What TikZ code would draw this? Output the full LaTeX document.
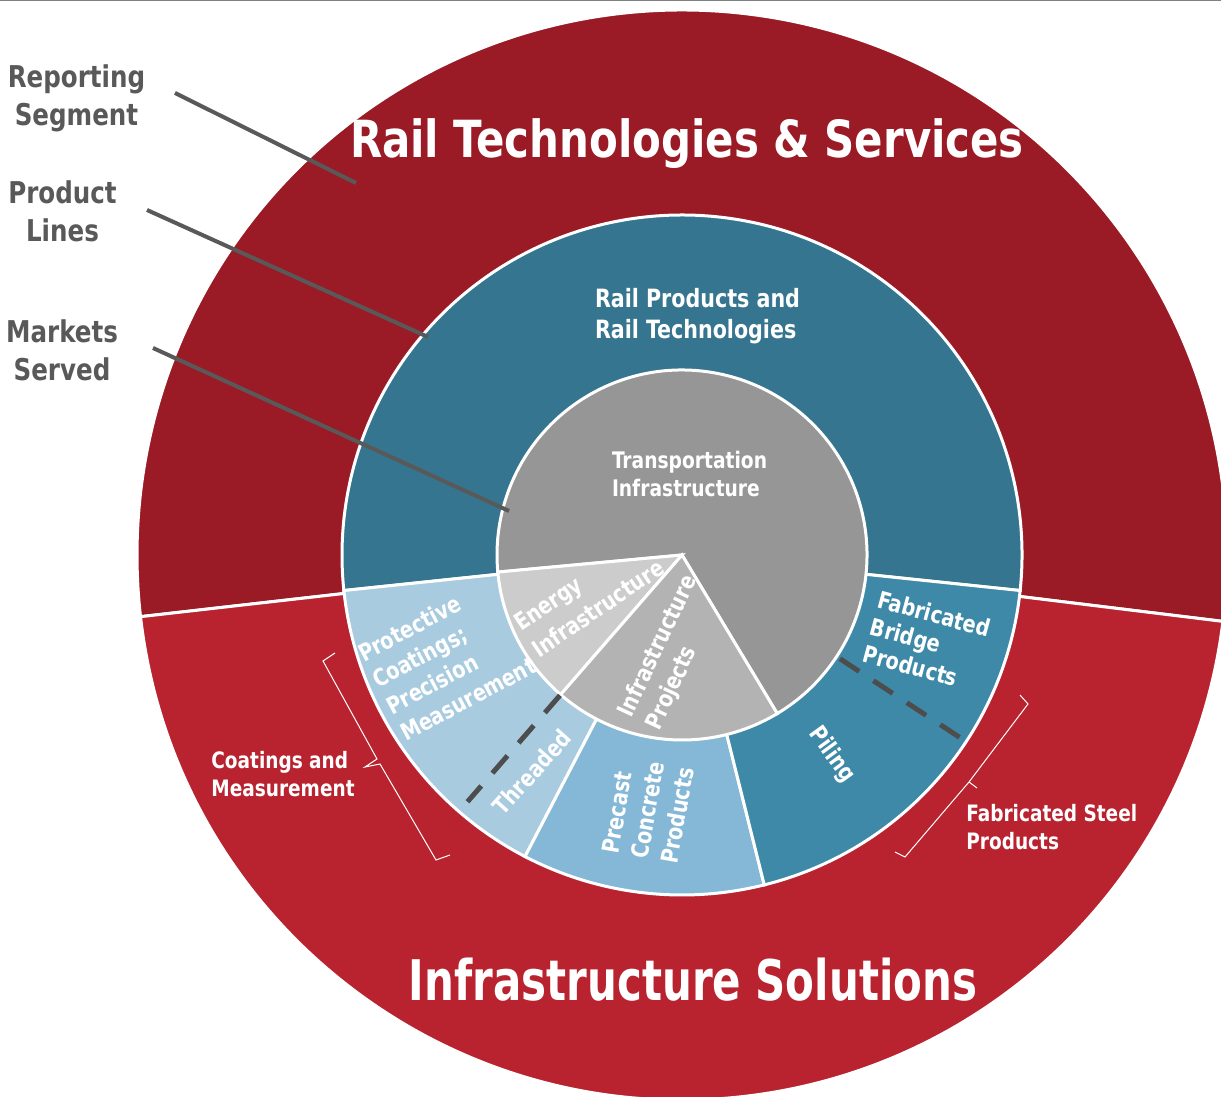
\documentclass[tikz,border=0pt]{standalone}
\usepackage{fontspec}
\newfontfamily\tahfont{DejaVu Sans Condensed Bold}[FakeStretch=0.91]
\usetikzlibrary{calc}
\definecolor{railred}{HTML}{9A1B25}
\definecolor{infrared}{HTML}{B8232F}
\definecolor{railteal}{HTML}{35758F}
\definecolor{steelblue}{HTML}{3F89A8}
\definecolor{precastblue}{HTML}{84B8D6}
\definecolor{coatblue}{HTML}{A9CBE0}
\definecolor{transgray}{HTML}{969696}
\definecolor{energygray}{HTML}{CCCCCC}
\definecolor{projgray}{HTML}{B3B3B3}
\definecolor{labelgray}{HTML}{595959}
\definecolor{dashgray}{HTML}{4D4D4D}
\def\ringwedge[#1](#2:#3:#4){\filldraw[#1] (ctr) -- ++(#2:#4) arc (#2:#3:#4) -- cycle;}
\tikzset{
  wedge/.style={draw=white, line width=1.5pt, fill=#1},
  ringtext/.style={text=white, inner sep=0pt, align=left, font=\tahfont\fontsize{11.8}{15}\selectfont},
  sidetext/.style={text=labelgray, inner sep=0pt, align=center, font=\tahfont\fontsize{15}{19}\selectfont},
  segtext/.style={text=white, inner sep=0pt, align=left, font=\tahfont\fontsize{11.3}{14.3}\selectfont},
  titletext/.style={text=white, inner sep=0pt, font=\tahfont\fontsize{25.6}{30}\selectfont},
  leader/.style={draw=labelgray, line width=2pt},
  splitline/.style={draw=dashgray, line width=2.5pt, dash pattern=on 11.5pt off 8.5pt},
  brace/.style={draw=white, line width=0.5pt}
}

\begin{document}
\begin{tikzpicture}[x=0.5pt, y=0.5pt]
			%%%%% START %%%%%
			\useasboundingbox (0, 0) rectangle (1221, 1097);
			\clip (0, 0) rectangle (1221, 1097);
			\coordinate (ctr) at (682, 542);
			
			% segments
			\ringwedge[wedge=railred](-7:186.5:545)
			\ringwedge[wedge=infrared](186.5:353:545)
			
			% product lines
			\ringwedge[wedge=railteal](-6:186:340)
			\ringwedge[wedge=coatblue](186:242.5:340)
			\ringwedge[wedge=precastblue](242.5:284:340)
			\ringwedge[wedge=steelblue](284:354:340)
			
			% markets
			\ringwedge[wedge=transgray](-59:185.3:185)
			\ringwedge[wedge=energygray](185.3:229:185)
			\ringwedge[wedge=projgray](229:301:185)
			
			\coordinate (thrA) at ($(ctr)+(229:186)$);
			\coordinate (thrB) at ($(ctr)+(229:327)$);
			\coordinate (pilA) at ($(ctr)+(326.7:189)$);
			\coordinate (pilB) at ($(ctr)+(326.7:335)$);
			\draw[splitline] (thrA) -- (thrB);
			\draw[splitline] (pilA) -- (pilB);
			
			% brackets
			\coordinate (cmTop) at (335, 444);
			\coordinate (cmC1) at (323, 436);
			\coordinate (cmM1) at (377, 338);
			\coordinate (cmTip) at (365, 330);
			\coordinate (cmM2) at (380, 333);
			\coordinate (cmC2) at (436, 237);
			\coordinate (cmBot) at (450, 242);
			\draw[brace] (cmTop) -- (cmC1) -- (cmM1) -- (cmTip) -- (cmM2) -- (cmC2) -- (cmBot);
			
			\coordinate (fsTop) at (1020, 402);
			\coordinate (fsC1) at (1028, 393);
			\coordinate (fsM) at (969, 315);
			\coordinate (fsTip) at (977, 309);
			\coordinate (fsC2) at (905, 240);
			\coordinate (fsBot) at (895, 245);
			\draw[brace] (fsTop) -- (fsC1) -- (fsM) -- (fsC2) -- (fsBot);
			\draw[brace] (fsM) -- (fsTip);
			
			% texts
			\node[titletext, anchor=base] (railseg) at (687, 939) {Rail Technologies \& Services};
			\node[titletext, anchor=base, font=\tahfont\fontsize{28}{32}\selectfont] (infraseg) at (693, 96) {\scalebox{0.915}[1]{Infrastructure Solutions}};
			
			\node[ringtext, font=\tahfont\fontsize{12.6}{15.8}\selectfont] (railprod) at (697.5, 781) {Rail Products and\\Rail Technologies};
			\node[ringtext, font=\tahfont\fontsize{11.4}{14}\selectfont] (transp) at (689.5, 623) {Transportation\\Infrastructure};
			\node[ringtext, rotate=34, font=\tahfont\fontsize{11.8}{16}\selectfont] (energy) at (589, 502) {Energy\\Infrastructure};
			\node[ringtext, rotate=65] (projects) at (672, 444) {Infrastructure\\Projects};
			\node[ringtext, rotate=28] (coatings) at (447, 438) {Protective\\Coatings;\\Precision\\Measurement};
			\node[ringtext, rotate=48] (threaded) at (532, 325) {Threaded};
			\node[ringtext, rotate=80] (precast) at (648, 287) {Precast\\Concrete\\Products};
			\node[ringtext, rotate=-54] (piling) at (832, 342) {Piling};
			\node[ringtext, rotate=-15, font=\tahfont\fontsize{11.8}{14}\selectfont] (bridge) at (927, 456) {Fabricated\\Bridge\\Products};
			
			\node[segtext, anchor=west] (coatmeas) at (211, 323) {Coatings and\\Measurement};
			\node[segtext, anchor=west] (fabsteel) at (966, 270) {Fabricated Steel\\Products};
			
			\node[sidetext] (repseg) at (76.5, 998.5) {Reporting\\Segment};
			\node[sidetext] (prodlines) at (62.5, 886) {Product\\Lines};
			\node[sidetext] (markets) at (62, 747) {Markets\\Served};
			
			% leaders
			\coordinate (repA) at (175, 1004);
			\coordinate (repB) at (356, 914);
			\coordinate (lineA) at (147, 887);
			\coordinate (lineB) at (428, 760);
			\coordinate (mktA) at (153, 749);
			\coordinate (mktB) at (509, 586);
			\draw[leader] (repA) -- (repB);
			\draw[leader] (lineA) -- (lineB);
			\draw[leader] (mktA) -- (mktB);
			
			\draw[gray, line width=0.5pt] (0, 1096.5) -- (1221, 1096.5);
			%%%%% END %%%%%
\end{tikzpicture}
\end{document}
